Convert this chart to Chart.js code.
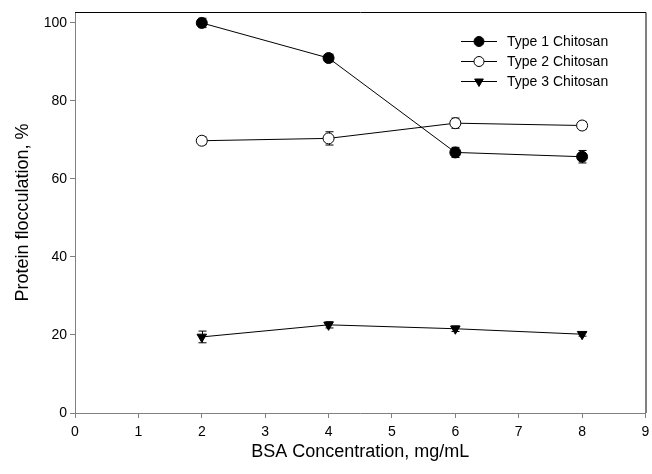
<!DOCTYPE html>
<html>
<head>
<meta charset="utf-8">
<script src="https://cdn.jsdelivr.net/npm/chart.js@4/dist/chart.umd.min.js"></script>
<style>
  html, body { margin: 0; padding: 0; background: #fff; }
  #wrap { width: 652px; height: 474px; }
</style>
</head>
<body>
<div id="wrap"><canvas id="myChart" width="652" height="474"></canvas></div>
<script>
const bsa = [2, 4, 6, 8];
const type1 = [100, 91.0, 66.8, 65.7];
const type1Err = [1.2, 1.0, 1.3, 1.6];
const type2 = [69.8, 70.4, 74.3, 73.7];
const type2Err = [1.0, 1.7, 1.3, 1.0];
const type3 = [19.5, 22.6, 21.6, 20.2];
const type3Err = [1.5, 0.8, 0.7, 0.5];
const seriesNames = ["Type 1 Chitosan", "Type 2 Chitosan", "Type 3 Chitosan"];
const xTicks = [0, 1, 2, 3, 4, 5, 6, 7, 8, 9];
const yTicks = [0, 20, 40, 60, 80, 100];

const FONT = "'Liberation Sans', Arial, sans-serif";
const AXIS_GREY = "#808080";

function pts(ys) {
    return bsa.map((x, i) => ({ x: x, y: ys[i] }));
}

// error bars, drawn through the scales, under the markers
const errorBars = {
    id: "errorBars",
    beforeDatasetsDraw(chart) {
        const ctx = chart.ctx;
        const xs = chart.scales.x, ys = chart.scales.y;
        const errs = [type1Err, type2Err, type3Err];
        ctx.save();
        ctx.strokeStyle = "#000";
        ctx.lineWidth = 1;
        chart.data.datasets.forEach((ds, d) => {
            ds.data.forEach((p, i) => {
                const px = Math.round(xs.getPixelForValue(p.x)) + 0.5;
                const top = ys.getPixelForValue(p.y + errs[d][i]);
                const bot = ys.getPixelForValue(p.y - errs[d][i]);
                ctx.beginPath();
                ctx.moveTo(px, top); ctx.lineTo(px, bot);
                ctx.moveTo(px - 4, top); ctx.lineTo(px + 4, top);
                ctx.moveTo(px - 4, bot); ctx.lineTo(px + 4, bot);
                ctx.stroke();
            });
        });
        ctx.restore();
    }
};

// top and right frame lines + legend
const frameAndLegend = {
    id: "frameAndLegend",
    afterDraw(chart) {
        const ctx = chart.ctx;
        const a = chart.chartArea;
        ctx.save();
        ctx.strokeStyle = "#000";
        ctx.lineWidth = 1;
        ctx.beginPath();
        ctx.moveTo(a.left, a.top + 0.5);
        ctx.lineTo(a.right + 0.5, a.top + 0.5);
        ctx.lineTo(a.right + 0.5, a.bottom);
        ctx.stroke();

        // legend
        const x0 = 461, x1 = 497, mx = 479, tx = 507;
        const rows = [41, 61, 81];
        ctx.font = "14px " + FONT;
        ctx.textBaseline = "middle";
        chart.data.datasets.forEach((ds, i) => {
            const y = rows[i] + 0.5;
            ctx.strokeStyle = "#000";
            ctx.beginPath();
            ctx.moveTo(x0, y); ctx.lineTo(x1, y);
            ctx.stroke();
            ctx.fillStyle = ds.pointBackgroundColor;
            Chart.helpers.drawPoint(ctx, {
                pointStyle: ds.pointStyle,
                rotation: ds.rotation || 0,
                radius: 5,
                borderWidth: 1
            }, mx, y);
            ctx.fillStyle = "#000";
            ctx.fillText(seriesNames[i], tx, y + 1);
        });
        ctx.restore();
    }
};

function makeSet(label, data, style, fill, rotation) {
    return {
        label: label,
        data: pts(data),
        borderColor: "#000",
        borderWidth: 1,
        pointStyle: style,
        rotation: rotation,
        pointRadius: 5.5,
        pointBorderWidth: 1,
        pointBorderColor: "#000",
        pointBackgroundColor: fill,
        pointHoverRadius: 5.5,
        tension: 0
    };
}

const ctx = document.getElementById("myChart").getContext("2d");
new Chart(ctx, {
    type: "line",
    data: {
        datasets: [
            makeSet(seriesNames[0], type1, "circle", "#000", 0),
            makeSet(seriesNames[1], type2, "circle", "#fff", 0),
            makeSet(seriesNames[2], type3, "triangle", "#000", 180)
        ]
    },
    options: {
        responsive: false,
        animation: false,
        layout: { padding: { top: 12, right: 4, left: 0, bottom: 0 } },
        plugins: {
            legend: { display: false },
            tooltip: { enabled: false }
        },
        scales: {
            x: {
                type: "linear",
                min: 0,
                max: 9,
                afterBuildTicks: s => { s.ticks = xTicks.map(v => ({ value: v })); },
                afterFit: s => { s.height = 61; s.paddingLeft = 0; s.paddingRight = 0; },
                grid: { drawOnChartArea: false, tickLength: 5, color: AXIS_GREY },
                border: { color: AXIS_GREY },
                ticks: { color: "#000", font: { family: FONT, size: 14 }, padding: 6, maxRotation: 0 },
                title: {
                    display: true,
                    text: "BSA Concentration, mg/mL",
                    color: "#000",
                    font: { family: FONT, size: 18 },
                    padding: { top: 0, bottom: 11 }
                }
            },
            y: {
                min: 0,
                max: 102.8,
                afterBuildTicks: s => { s.ticks = yTicks.map(v => ({ value: v })); },
                afterFit: s => { s.width = 75; },
                grid: { drawOnChartArea: false, tickLength: 5, color: AXIS_GREY },
                border: { color: AXIS_GREY },
                ticks: { color: "#000", font: { family: FONT, size: 14 }, padding: 3 },
                title: {
                    display: true,
                    text: "Protein flocculation, %",
                    color: "#000",
                    font: { family: FONT, size: 18 },
                    padding: { top: 12, bottom: 0 }
                }
            }
        }
    },
    plugins: [errorBars, frameAndLegend]
});
</script>
</body>
</html>
